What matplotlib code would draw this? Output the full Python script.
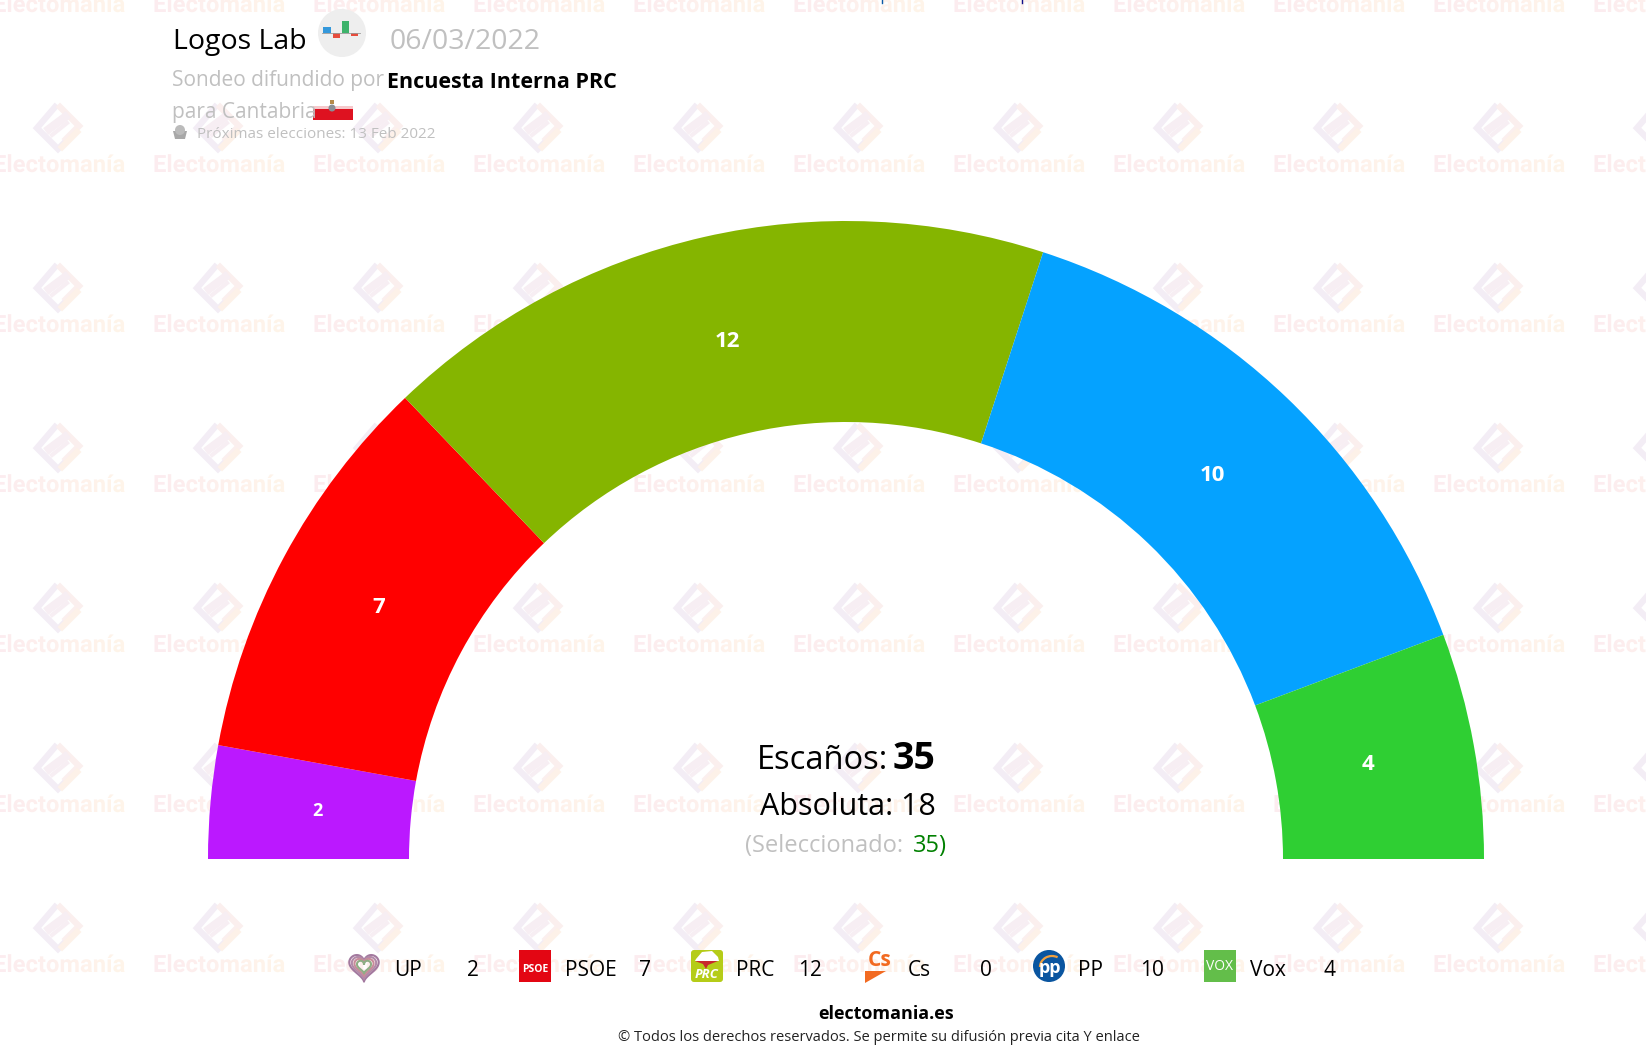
import numpy as np
import matplotlib
matplotlib.use("Agg")
import matplotlib.pyplot as plt
from matplotlib.patches import Circle, Polygon, Rectangle, FancyBboxPatch, PathPatch, Arc
from matplotlib.textpath import TextPath
from matplotlib.font_manager import FontProperties
from matplotlib.path import Path
from matplotlib.transforms import Affine2D

plt.rcParams['font.family'] = ['Open Sans', 'DejaVu Sans']

# Data
parties = ["UP", "PSOE", "PRC", "Cs", "PP", "Vox"]
seats = [2, 7, 12, 0, 10, 4]
colors = ["#BB18FF", "#FF0000", "#85B500", "#FF7A1A", "#05A2FF", "#2FCF33"]
label_sizes = [13, 16, 16, 16, 16, 16]

W, H = 1646, 1052
cx, cy, r_out, r_in = 846, 859, 638, 437

fig = plt.figure(figsize=(W / 100, H / 100), dpi=100, facecolor="white")
bg = fig.add_axes([0, 0, 1, 1])
bg.set_xlim(0, W)
bg.set_ylim(H, 0)
bg.axis("off")

# Watermark, repeated every 160 px
tile = 160
fp = FontProperties(family="Roboto", weight="bold", size=22)
word = TextPath((0, 0), "Electomanía", prop=fp)
scale_x = 130 / word.get_extents().width
verts, codes = [], []
for row in range(7):
    for col in range(11):
        p = word.transformed(Affine2D().scale(scale_x, -scale_x).translate(-7 + tile * col, 12 + tile * row))
        verts.append(p.vertices)
        codes.append(p.codes)
word_paths = Path(np.concatenate(verts), np.concatenate(codes))
frac = np.clip(((np.arange(W) + 7) % tile) / 130, 0, 1)
left_col = np.array([0.99, 0.925, 0.94])
right_col = np.array([1.0, 0.96, 0.915])
grad = (left_col[None, :] * (1 - frac[:, None]) + right_col[None, :] * frac[:, None])[None, :, :]
im = bg.imshow(grad, extent=(0, W, H, 0), aspect="auto", zorder=1)
bg.set_xlim(0, W)
bg.set_ylim(H, 0)
wp = PathPatch(word_paths, transform=bg.transData, fc="none", ec="none")
bg.add_patch(wp)
im.set_clip_path(wp)

for row in range(7):
    for col in range(11):
        x0 = 58 + tile * col
        y0 = -32 + tile * row
        bg.plot([x0 - 3, x0 - 21, x0, x0 + 8], [y0 - 21, y0, y0 + 21, y0 + 13], color="#F3EDF5", lw=4.5, zorder=1, solid_joinstyle="miter")
        bg.plot([x0 + 8, x0 + 21, x0 + 2], [y0 + 11, y0 - 2, y0 - 21], color="#FBEFEE", lw=4.5, zorder=1, solid_joinstyle="miter")
        bg.plot([x0 + 4, x0 + 19], [y0 + 19, y0 + 4], color="#FDF1E8", lw=4.5, zorder=1)
        bg.plot([x0 - 9, x0 + 7], [y0 + 1, y0 - 11], color="#F7EEF3", lw=6, zorder=1)
        bg.plot([x0 - 6, x0 + 9], [y0 + 7, y0 - 5], color="#F7EEF3", lw=3, zorder=1)

# Hemicycle: a pie whose second half is invisible
pie_ax = fig.add_axes([(cx - r_out) / W, (H - cy - r_out) / H, 2 * r_out / W, 2 * r_out / H], zorder=2)
pie_ax.patch.set_alpha(0)
wedges, _ = pie_ax.pie(seats + [sum(seats)], colors=colors + ["none"], startangle=180, counterclock=False,
                       radius=1, wedgeprops={"width": 1 - r_in / r_out, "linewidth": 0})
pie_ax.set_xlim(-1, 1)
pie_ax.set_ylim(-1, 1)
for w, n, fs in zip(wedges[:-1], seats, label_sizes):
    if n == 0:
        continue
    mid = np.deg2rad((w.theta1 + w.theta2) / 2)
    pie_ax.text(0.832 * np.cos(mid), 0.832 * np.sin(mid), str(n), color="white", fontsize=fs,
                fontweight="bold", ha="center", va="center")

top = fig.add_axes([0, 0, 1, 1], zorder=3)
top.set_xlim(0, W)
top.set_ylim(H, 0)
top.axis("off")
top.patch.set_alpha(0)

# Header
top.text(173, 49, "Logos Lab", fontsize=20.5, color="black")
top.text(390, 49, "06/03/2022", fontsize=20.5, color="#C0C0C0")
top.add_patch(Circle((342, 33), 24, fc="#EEEEEE", ec="none"))
top.add_patch(Rectangle((323, 27), 8, 6, fc="#3498DB", ec="none"))
top.add_patch(Rectangle((333, 33), 7, 5, fc="#E74C3C", ec="none"))
top.add_patch(Rectangle((342, 21), 7, 12, fc="#3DB36B", ec="none"))
top.add_patch(Rectangle((351, 33), 7, 3, fc="#E74C3C", ec="none"))
top.plot([322, 360], [33, 33], color="#999999", lw=0.6)
top.text(172, 86, "Sondeo difundido por", fontsize=15, color="#C0C0C0")
top.text(387, 88, "Encuesta Interna PRC", fontsize=15.5, color="black", fontweight="bold")
top.text(172, 118, "para Cantabria", fontsize=15, color="#C0C0C0")
top.add_patch(Rectangle((313, 106), 40, 3, fc="#F6C9CC", ec="none"))
top.add_patch(Rectangle((313, 109), 40, 11, fc="#DE1220", ec="none"))
top.add_patch(Circle((332, 108), 3.5, fc="#8A8F96", ec="none"))
top.add_patch(Rectangle((330, 100), 4, 4, fc="#B48A4A", ec="none"))
top.add_patch(Polygon([(173, 131), (187, 131), (185, 139), (175, 139)], fc="#A8A8A8", ec="none"))
top.add_patch(Circle((180, 130), 5, fc="#BBBBBB", ec="none"))
top.text(197, 138, "Próximas elecciones: 13 Feb 2022", fontsize=11, color="#C0C0C0")
top.plot([882, 882], [0, 3], color="#0A5AA8", lw=1)
top.plot([1022, 1022], [0, 3], color="#10108A", lw=1)

# Centre texts
top.text(757, 769, "Escaños:", fontsize=23.5, color="black")
top.text(893, 769, "35", fontsize=27, color="black", fontweight="bold")
top.text(760, 815, "Absoluta: 18", fontsize=22, color="black")
top.text(745, 852, "(Seleccionado: ", fontsize=17, color="#C0C0C0")
top.text(947, 852, "35)", fontsize=17, color="#008000", ha="right")

# Legend
label_x = [394, 565, 736, 908, 1078, 1250]
value_x = [479, 651, 822, 992, 1164, 1336]
icon_x = [364, 535, 707, 879, 1049, 1220]
icon_y = 966
for name, n, lx, vx in zip(parties, seats, label_x, value_x):
    top.text(lx, 976, name, fontsize=15, color="black")
    top.text(vx, 976, str(n), fontsize=15, color="black", ha="right")

# UP heart
t = np.linspace(0, 2 * np.pi, 100)
hx = 16 * np.sin(t) ** 3
hy = -(13 * np.cos(t) - 5 * np.cos(2 * t) - 2 * np.cos(3 * t) - np.cos(4 * t))
for s, c in zip([0.92, 0.76, 0.6, 0.44], ["#A3799F", "#B18AA8", "#C88A9A", "#8FAE85"]):
    top.plot(icon_x[0] + s * hx, icon_y + s * hy, color=c, lw=1.5)
# PSOE
top.add_patch(Rectangle((icon_x[1] - 16, icon_y - 16), 32, 32, fc="#E30613", ec="none"))
top.text(icon_x[1], icon_y + 3, "PSOE", color="white", fontsize=7.5, fontweight="bold", ha="center", va="center")
# PRC
top.add_patch(FancyBboxPatch((icon_x[2] - 14, icon_y - 14), 28, 28, boxstyle="round,pad=2,rounding_size=3", fc="#B5CC18", ec="none"))
top.add_patch(Polygon([(icon_x[2] - 11, icon_y - 7), (icon_x[2] - 5, icon_y - 14), (icon_x[2] + 5, icon_y - 15), (icon_x[2] + 11, icon_y - 9),
                       (icon_x[2] + 12, icon_y - 5), (icon_x[2] - 12, icon_y - 5)], fc="white", ec="none"))
top.add_patch(Polygon([(icon_x[2] - 12, icon_y - 5), (icon_x[2] + 11, icon_y - 5), (icon_x[2] + 1, icon_y - 1), (icon_x[2] - 1, icon_y + 3), (icon_x[2] - 4, icon_y - 2)], fc="#C8282D", ec="none"))
top.text(icon_x[2], icon_y + 9, "PRC", color="white", fontsize=9.5, fontweight="bold", fontstyle="italic", ha="center", va="center")
# Cs
top.text(icon_x[3] + 1, icon_y - 6, "Cs", color="#F26A21", fontsize=15, fontweight="bold", ha="center", va="center")
top.add_patch(Polygon([(icon_x[3] - 14, icon_y + 5), (icon_x[3] + 7, icon_y + 5), (icon_x[3] - 14, icon_y + 17)], fc="#F26A21", ec="none"))
# PP
top.add_patch(Circle((icon_x[4], icon_y), 16, fc="#0A55A0", ec="none"))
top.add_patch(Arc((icon_x[4] + 3, icon_y + 1), 24, 22, theta1=180, theta2=300, ec="#F0A040", lw=1.6))
top.text(icon_x[4] + 1, icon_y + 2, "pp", color="white", fontsize=13, fontweight="bold", ha="center", va="center")
# Vox
top.add_patch(Rectangle((icon_x[5] - 16, icon_y - 16), 32, 32, fc="#63BE4A", ec="none"))
top.text(icon_x[5], icon_y, "VOX", color="white", fontsize=10, ha="center", va="center")

# Footer
top.text(886, 1019, "electomania.es", fontsize=13, color="black", fontweight="bold", ha="center")
top.text(618, 1041, "© Todos los derechos reservados. Se permite su difusión previa cita Y enlace", fontsize=10.5, color="#222222")

fig.savefig("out.png", dpi=100)
